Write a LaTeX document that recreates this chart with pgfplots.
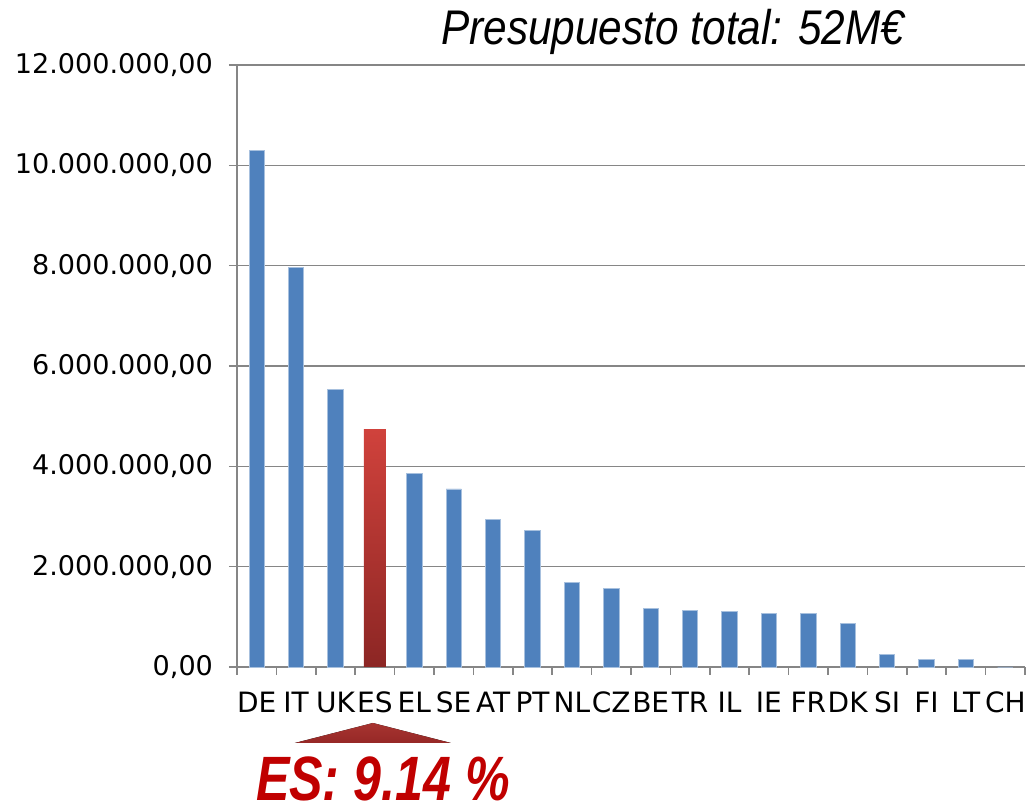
\documentclass[border=0pt]{standalone}
\usepackage{pgfplots}
\pgfplotsset{compat=1.18}
\usepackage{fontspec}
\setmainfont{DejaVu Sans}
\newfontfamily\titlefont[FakeStretch=0.87]{Liberation Sans}
\newfontfamily\annofont[FakeStretch=0.8]{Liberation Sans}
\definecolor{barblue}{HTML}{4F81BD}
\definecolor{baredge}{HTML}{A7C0DE}
\definecolor{gridgray}{RGB}{134,134,134}
\definecolor{esTop}{RGB}{208,66,60}
\definecolor{esBot}{RGB}{140,38,36}
\definecolor{annored}{RGB}{192,0,0}
\definecolor{triTop}{RGB}{214,84,78}
\definecolor{triBot}{RGB}{150,40,38}
\begin{document}
\begin{tikzpicture}
\begin{axis}[
  name=main,
  scale only axis,
  width=591pt, height=451.5pt,
  xmin=-0.5, xmax=19.5, ymin=0, ymax=12,
  clip=false,
  axis x line*=bottom, axis y line*=left,
  axis line style={gridgray, line width=1.2pt},
  ytick={0,2,4,6,8,10,12},
  yticklabels={{0,00},{2.000.000,00},{4.000.000,00},{6.000.000,00},{8.000.000,00},{10.000.000,00},{12.000.000,00}},
  xtick={0,1,...,19},
  xticklabels={DE,IT,UK,ES,EL,SE,AT,PT,NL,CZ,BE,TR,IL,IE,FR,DK,SI,FI,LT,CH},
  minor xtick={-0.5,0.5,...,19.5},
  tick align=outside,
  major tick length=6pt, minor tick length=6pt,
  major x tick style={draw=none},
  minor x tick style={gridgray, line width=1.2pt},
  y tick style={gridgray, line width=1.2pt},
  ymajorgrids,
  major grid style={gridgray, line width=1.2pt},
  ticklabel style={text=black},
  yticklabel style={xshift=-8.5pt, font=\fontsize{20.3}{24}\selectfont},
  xticklabel style={yshift=-9pt, inner xsep=0pt, font=\fontsize{21}{24}\selectfont},
]
\addplot[ybar, bar width=0.39, bar shift=0pt, fill=barblue, draw=baredge, line width=0.5pt]
  coordinates {(0,10.29) (1,7.96) (2,5.53) (4,3.86) (5,3.55) (6,2.94) (7,2.72) (8,1.69) (9,1.57) (10,1.17) (11,1.13) (12,1.11) (13,1.07) (14,1.06) (15,0.865) (16,0.25) (17,0.155) (18,0.15) (19,0)};
\addplot[ybar, bar width=0.56, bar shift=0pt, top color=esTop, bottom color=esBot, draw=none]
  coordinates {(3,4.74)};
\node[anchor=base, font=\titlefont\itshape\fontsize{36.5}{42}\selectfont] at (rel axis cs:0.553,1) [yshift=15pt] {Presupuesto total: 52M€};
\fill[top color=triTop, bottom color=triBot] (axis cs:3,0) ++(-1.5pt,-42pt) -- ++(-58.5pt,-15pt) -- ++(117pt,0pt) -- cycle;
\node[anchor=base, text=annored, font=\annofont\bfseries\itshape\fontsize{47}{56}\selectfont, inner sep=0pt, text depth=0pt] at (axis cs:3,0) [xshift=6pt, yshift=-100pt] {ES: 9.14 \%};
\path (rel axis cs:0,0) ++(-177.75pt,-108.75pt) rectangle ++(776.25pt,609pt);
\end{axis}
\end{tikzpicture}
\end{document}
